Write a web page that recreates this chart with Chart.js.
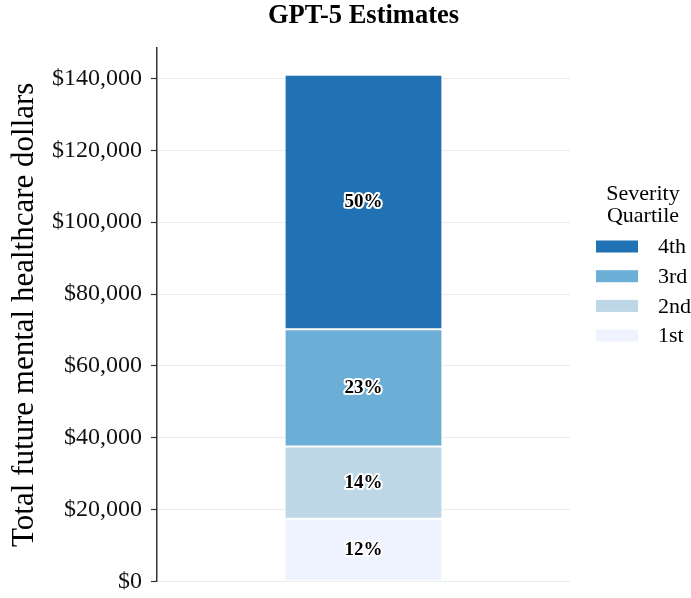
<!DOCTYPE html>
<html>
<head>
<meta charset="utf-8">
<script src="https://cdn.jsdelivr.net/npm/chart.js@4.4.1/dist/chart.umd.min.js"></script>
<style>
  html, body { margin: 0; padding: 0; background: #ffffff; }
</style>
</head>
<body>
<canvas id="cost-chart" width="691" height="598"></canvas>
<script>
// Data (dollars per severity quartile, one stacked bar)
const categories = [""];
const quartiles = ["1st", "2nd", "3rd", "4th"];
const dollars1st = [17500];
const dollars2nd = [20100];
const dollars3rd = [32600];
const dollars4th = [70800];
const quartileColors = ["#eff3ff", "#bdd7e7", "#6baed6", "#2171b5"];
const yTicks = [0, 20000, 40000, 60000, 80000, 100000, 120000, 140000];
const yMin = 0;
const yMax = 148500;

const serif = "'Liberation Serif', 'DejaVu Serif', serif";

// Percent of total written in the middle of each segment
const percentLabels = {
    id: "percentLabels",
    afterDatasetsDraw(chart) {
        const ctx = chart.ctx;
        const sets = chart.data.datasets;
        const total = sets.reduce((sum, ds) => sum + ds.data[0], 0);
        ctx.save();
        ctx.font = "bold 19px " + serif;
        ctx.textAlign = "center";
        ctx.textBaseline = "middle";
        ctx.lineJoin = "round";
        ctx.lineWidth = 4;
        ctx.strokeStyle = "#ffffff";
        ctx.fillStyle = "#000000";
        sets.forEach((ds, i) => {
            const bar = chart.getDatasetMeta(i).data[0];
            const y = (bar.y + bar.base) / 2;
            const text = Math.round((ds.data[0] / total) * 100) + "%";
            ctx.strokeText(text, bar.x, y);
            ctx.fillText(text, bar.x, y);
        });
        ctx.restore();
    },
};

// Legend on the right, ggplot style: two-line title, wide swatches, top = 4th
const quartileLegend = {
    id: "quartileLegend",
    afterDraw(chart) {
        const ctx = chart.ctx;
        const sets = chart.data.datasets;
        ctx.save();
        ctx.fillStyle = "#000000";
        ctx.font = "22px " + serif;
        ctx.textAlign = "center";
        ctx.textBaseline = "alphabetic";
        ctx.fillText("Severity", 643, 200);
        ctx.fillText("Quartile", 643, 222);

        ctx.textAlign = "left";
        ctx.textBaseline = "middle";
        for (let k = 0; k < sets.length; k++) {
            const ds = sets[sets.length - 1 - k];
            const cy = 246.5 + k * 29.7;
            ctx.fillStyle = ds.backgroundColor;
            ctx.fillRect(596, cy - 6, 42, 12);
            ctx.fillStyle = "#000000";
            ctx.fillText(ds.label, 658, cy + 1);
        }
        ctx.restore();
    },
};

const seriesValues = [dollars1st, dollars2nd, dollars3rd, dollars4th];
const datasets = quartiles.map((q, i) => ({
    label: q,
    data: seriesValues[i],
    backgroundColor: quartileColors[i],
    borderColor: "#ffffff",
    borderWidth: 1,
    borderSkipped: false,
    barPercentage: 0.382,
    categoryPercentage: 1.0,
}));

const ctx = document.getElementById("cost-chart").getContext("2d");
new Chart(ctx, {
    type: "bar",
    data: { labels: categories, datasets: datasets },
    options: {
        responsive: false,
        animation: false,
        layout: { padding: { top: 0, right: 121, bottom: 16.3, left: 0 } },
        plugins: {
            legend: { display: false },
            tooltip: { enabled: false },
            title: {
                display: true,
                text: "GPT-5 Estimates",
                fullSize: false,
                color: "#000000",
                font: { family: serif, size: 26.5, weight: "bold" },
                padding: { top: 0, bottom: 16 },
            },
        },
        scales: {
            x: {
                stacked: true,
                display: false,
            },
            y: {
                stacked: true,
                min: yMin,
                max: yMax,
                afterBuildTicks: (scale) => {
                    scale.ticks = yTicks.map((v) => ({ value: v }));
                },
                afterFit: (scale) => {
                    scale.width = 157;
                    scale.paddingTop = 0;
                    scale.paddingBottom = 0;
                },
                border: { display: true, color: "#333333", width: 1.5 },
                grid: {
                    color: "#ebebeb",
                    lineWidth: 1,
                    drawTicks: true,
                    tickLength: 6,
                    tickColor: "#333333",
                    tickWidth: 1.2,
                },
                ticks: {
                    padding: 9,
                    color: "#111111",
                    font: { family: serif, size: 24 },
                    callback: (value) => "$" + value.toLocaleString("en-US"),
                },
                title: {
                    display: true,
                    text: "Total future mental healthcare dollars",
                    color: "#000000",
                    font: { family: serif, size: 31 },
                    padding: { top: 6, bottom: 0 },
                },
            },
        },
    },
    plugins: [percentLabels, quartileLegend],
});
</script>
</body>
</html>
